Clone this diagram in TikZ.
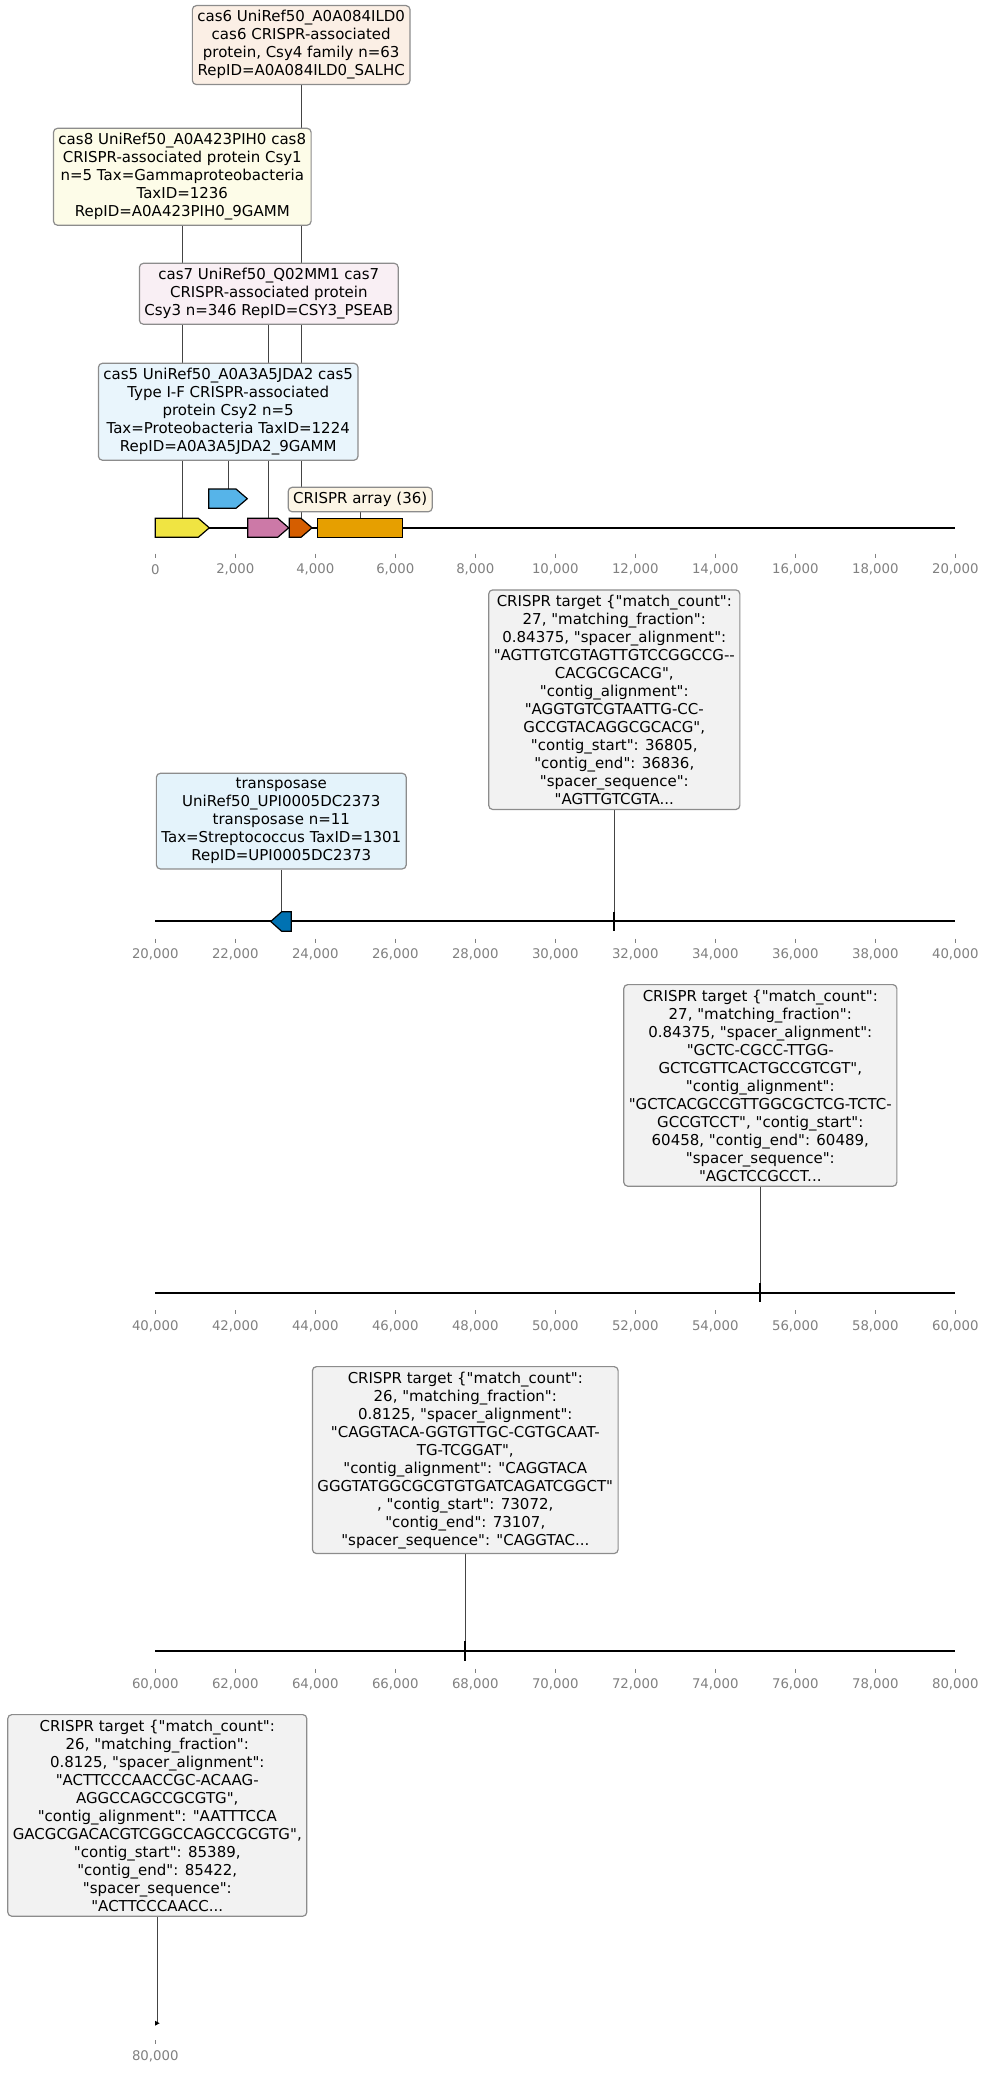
\documentclass[tikz,border=0pt]{standalone}
\usepackage{fontspec}
\setmainfont{DejaVu Sans}[Ligatures=TeXOff]
\usetikzlibrary{backgrounds}

\definecolor{geneYel}{HTML}{F0E442}
\definecolor{geneBlu}{HTML}{56B4E9}
\definecolor{genePnk}{HTML}{CC79A7}
\definecolor{geneVer}{HTML}{D55E00}
\definecolor{geneOra}{HTML}{E69F00}
\definecolor{geneDbl}{HTML}{0072B2}
\definecolor{boxgray}{HTML}{8C8C8C}
\definecolor{conngray}{HTML}{444444}
\definecolor{tickgray}{HTML}{808080}
\definecolor{tgtfill}{HTML}{F2F2F2}

\tikzset{>=latex,
  lab/.style={draw=boxgray, line width=1.2pt, rounded corners=4pt,
    align=center, inner xsep=5pt, inner ysep=5pt, anchor=north,
    font=\fontsize{15}{18}\selectfont},
  conn/.style={draw=conngray, line width=1pt},
  gene/.style={draw=black, line width=1.2pt, line join=miter},
  axisline/.style={line width=2pt},
  tgtmark/.style={line width=2pt},
  tickmark/.style={draw=tickgray, line width=1pt},
  ticklab/.style={text=tickgray, inner sep=0pt,
    font=\fontsize{13.3}{16}\selectfont}
}

\begin{document}
\begin{tikzpicture}[x=1pt,y=-1pt]
  \useasboundingbox (0,0) rectangle (989,2074);

  % axis lines
  \draw[axisline] (155.3,527.7) -- (955.3,527.7);
  \draw[axisline] (155.3,921) -- (955.3,921);
  \draw[axisline] (155.3,1292.7) -- (955.3,1292.7);
  \draw[axisline] (155.3,1651) -- (955.3,1651);

  % ticks and labels, rows 1-4
  \foreach \r/\ay/\lo in {0/527.7/41.6, 1/921/33.3, 2/1292.7/33.3, 3/1651/33.3} {
    \foreach \k in {0,...,10} {
      \pgfmathtruncatemacro\th{20*\r+2*\k}
      \draw[tickmark] (155.3+80*\k,\ay+\lo-15.8) -- ++(0,4);
      \node[ticklab] (lab\r-\k) at (155.3+80*\k,\ay+\lo)
        {\ifnum\th=0 0\else\th,000\fi};
    }
  }
  % row 5
  \draw[tickmark] (155.3,2040.3) -- ++(0,4);
  \node[ticklab] (lab4-0) at (155.3,2056.7) {80,000};

  % genes
  \draw[gene, fill=geneYel] (155.3,518.3) -- (198.3,518.3) -- (209.3,527.8)
    -- (198.3,537.3) -- (155.3,537.3) -- cycle;
  \draw[gene, fill=geneBlu] (208.7,489) -- (236,489) -- (247.3,498.7)
    -- (236,508.3) -- (208.7,508.3) -- cycle;
  \draw[gene, fill=genePnk] (247.7,518.3) -- (277.7,518.3) -- (288.7,527.8)
    -- (277.7,537.3) -- (247.7,537.3) -- cycle;
  \draw[gene, fill=geneVer] (289.3,518.3) -- (301,518.3) -- (312,527.8)
    -- (301,537.3) -- (289.3,537.3) -- cycle;
  \draw[gene, fill=geneOra] (317.3,518.3) rectangle (402.7,537.3);
  \draw[gene, fill=geneDbl] (291.3,911.7) -- (281.7,911.7) -- (270.7,921.5)
    -- (281.7,931.3) -- (291.3,931.3) -- cycle;
  \coordinate (gYel) at (182.3,518.3);
  \coordinate (gBlu) at (228.2,489);
  \coordinate (gPnk) at (268.8,518.3);
  \coordinate (gVer) at (301.2,518.3);
  \coordinate (gOra) at (360.2,518.3);
  \coordinate (gDbl) at (281.3,911.7);

  % target marks
  \draw[tgtmark] (614.3,911.7) -- (614.3,931);
  \draw[tgtmark] (760.3,1283) -- (760.3,1302.4);
  \draw[tgtmark] (465.3,1641.3) -- (465.3,1660.7);
  \fill (155.2,2020.8) -- (159.6,2023.2) -- (155.2,2025.6) -- cycle;
  \coordinate (mk1) at (614.3,912);
  \coordinate (mk2) at (760.3,1283.3);
  \coordinate (mk3) at (465.3,1641.6);
  \coordinate (mk4) at (157.3,2021.8);

  % labels
  \node[lab, fill=geneVer!10] (cas6) at (301.2,5)
    {cas6 UniRef50\_A0A084ILD0\\cas6 CRISPR-associated\\protein, Csy4 family n=63\\RepID=A0A084ILD0\_SALHC};
  \node[lab, fill=geneYel!12] (cas8) at (182.3,127.7)
    {cas8 UniRef50\_A0A423PIH0 cas8\\CRISPR-associated protein Csy1\\n=5 Tax=Gammaproteobacteria\\TaxID=1236\\RepID=A0A423PIH0\_9GAMM};
  \node[lab, fill=genePnk!12] (cas7) at (268.8,262.7)
    {cas7 UniRef50\_Q02MM1 cas7\\CRISPR-associated protein\\Csy3 n=346 RepID=CSY3\_PSEAB};
  \node[lab, fill=geneBlu!13] (cas5) at (228.2,362.7)
    {cas5 UniRef50\_A0A3A5JDA2 cas5\\Type I-F CRISPR-associated\\protein Csy2 n=5\\Tax=Proteobacteria TaxID=1224\\RepID=A0A3A5JDA2\_9GAMM};
  \node[lab, fill=geneOra!10] (arr) at (360.2,486.7) {CRISPR array (36)};
  \node[lab, fill=geneBlu!16] (tpase) at (281.3,772.7)
    {transposase\\UniRef50\_UPI0005DC2373\\transposase n=11\\Tax=Streptococcus TaxID=1301\\RepID=UPI0005DC2373};
  \node[lab, fill=tgtfill] (tgt1) at (614.3,589.3)
    {CRISPR target \{"match\_count":\\27, "matching\_fraction":\\0.84375, "spacer\_alignment":\\"AGTTGTCGTAGTTGTCCGGCCG-{}-\\CACGCGCACG",\\"contig\_alignment":\\"AGGTGTCGTAATTG-CC-\\GCCGTACAGGCGCACG",\\"contig\_start": 36805,\\"contig\_end": 36836,\\"spacer\_sequence":\\"AGTTGTCGTA...};
  \node[lab, fill=tgtfill] (tgt2) at (760.3,984)
    {CRISPR target \{"match\_count":\\27, "matching\_fraction":\\0.84375, "spacer\_alignment":\\"GCTC-CGCC-TTGG-\\GCTCGTTCACTGCCGTCGT",\\"contig\_alignment":\\"GCTCACGCCGTTGGCGCTCG-TCTC-\\GCCGTCCT", "contig\_start":\\60458, "contig\_end": 60489,\\"spacer\_sequence":\\"AGCTCCGCCT...};
  \node[lab, fill=tgtfill] (tgt3) at (465.3,1366)
    {CRISPR target \{"match\_count":\\26, "matching\_fraction":\\0.8125, "spacer\_alignment":\\"CAGGTACA-GGTGTTGC-CGTGCAAT-\\TG-TCGGAT",\\"contig\_alignment": "CAGGTACA\\GGGTATGGCGCGTGTGATCAGATCGGCT"\\, "contig\_start": 73072,\\"contig\_end": 73107,\\"spacer\_sequence": "CAGGTAC...};
  \node[lab, fill=tgtfill] (tgt4) at (157.3,1714)
    {CRISPR target \{"match\_count":\\26, "matching\_fraction":\\0.8125, "spacer\_alignment":\\"ACTTCCCAACCGC-ACAAG-\\AGGCCAGCCGCGTG",\\"contig\_alignment": "AATTTCCA\\GACGCGACACGTCGGCCAGCCGCGTG",\\"contig\_start": 85389,\\"contig\_end": 85422,\\"spacer\_sequence":\\"ACTTCCCAACC...};

  % connectors behind the boxes
  \begin{pgfonlayer}{background}
    \draw[conn] (cas6.south) -- (gVer);
    \draw[conn] (cas8.south) -- (gYel);
    \draw[conn] (cas7.south) -- (gPnk);
    \draw[conn] (cas5.south) -- (gBlu);
    \draw[conn] (arr.south) -- (gOra);
    \draw[conn] (tpase.south) -- (gDbl);
    \draw[conn] (tgt1.south) -- (mk1);
    \draw[conn] (tgt2.south) -- (mk2);
    \draw[conn] (tgt3.south) -- (mk3);
    \draw[conn] (tgt4.south) -- (mk4);
  \end{pgfonlayer}
\end{tikzpicture}
\end{document}
